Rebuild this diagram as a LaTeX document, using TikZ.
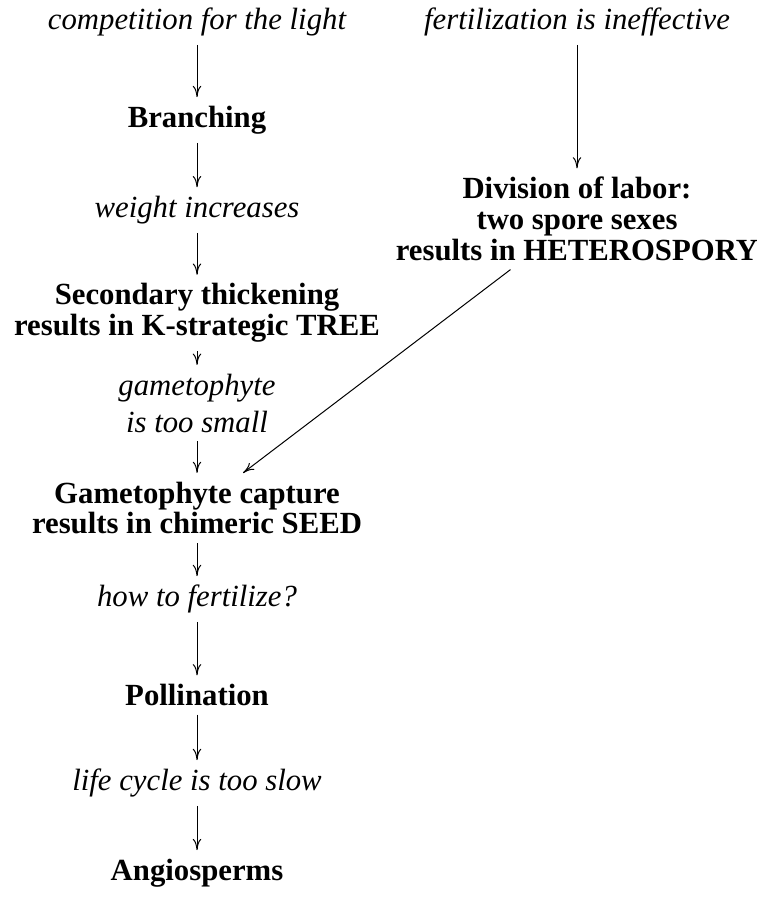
\documentclass[tikz,border=0pt]{standalone}
\usepackage{fontspec}
\setmainfont{Liberation Serif}
\usetikzlibrary{arrows.meta, positioning, calc}

\begin{document}
\begin{tikzpicture}[
  x=0.4pt, y=-0.4pt,
  stage/.style={align=center, font=\fontsize{12.3}{12.3}\selectfont\bfseries},
  cause/.style={align=center, font=\fontsize{12.3}{14.8}\selectfont\itshape},
  arr/.style={-{To[length=4.5pt, width=3.4pt]}}
]
  \useasboundingbox (0,0) rectangle (757,899);
  % left column
  \node[cause] (light) at (197,22) {competition for the light};
  \node[stage] (branch) at (197,120) {Branching};
  \node[cause] (weight) at (197,210) {weight increases};
  \node[stage] (tree) at (197,313) {Secondary thickening\\results in K-strategic TREE};
  \node[cause] (small) at (197,403) {gametophyte\\is too small};
  \node[stage] (seed) at (197,508) {Gametophyte capture\\results in chimeric SEED};
  \node[cause] (fertq) at (197,599) {how to fertilize?};
  \node[stage] (pollin) at (197,695) {Pollination};
  \node[cause] (slow) at (197,783) {life cycle is too slow};
  \node[stage] (angio) at (197,873) {Angiosperms};
  % right column
  \node[cause] (ineff) at (577,22) {fertilization is ineffective};
  \node[stage] (hetero) at (577,219) {Division of labor:\\two spore sexes\\results in HETEROSPORY};
  \draw[arr] (light) -- (branch);
  \draw[arr] (branch) -- (weight);
  \draw[arr] (weight) -- (tree);
  \draw[arr] (tree) -- (small);
  \draw[arr] (small) -- (seed);
  \draw[arr] (seed) -- (fertq);
  \draw[arr] (fertq) -- (pollin);
  \draw[arr] (pollin) -- (slow);
  \draw[arr] (slow) -- (angio);
  \draw[arr] (ineff) -- (hetero);
  \draw[arr] (hetero) -- (seed);
\end{tikzpicture}
\end{document}
